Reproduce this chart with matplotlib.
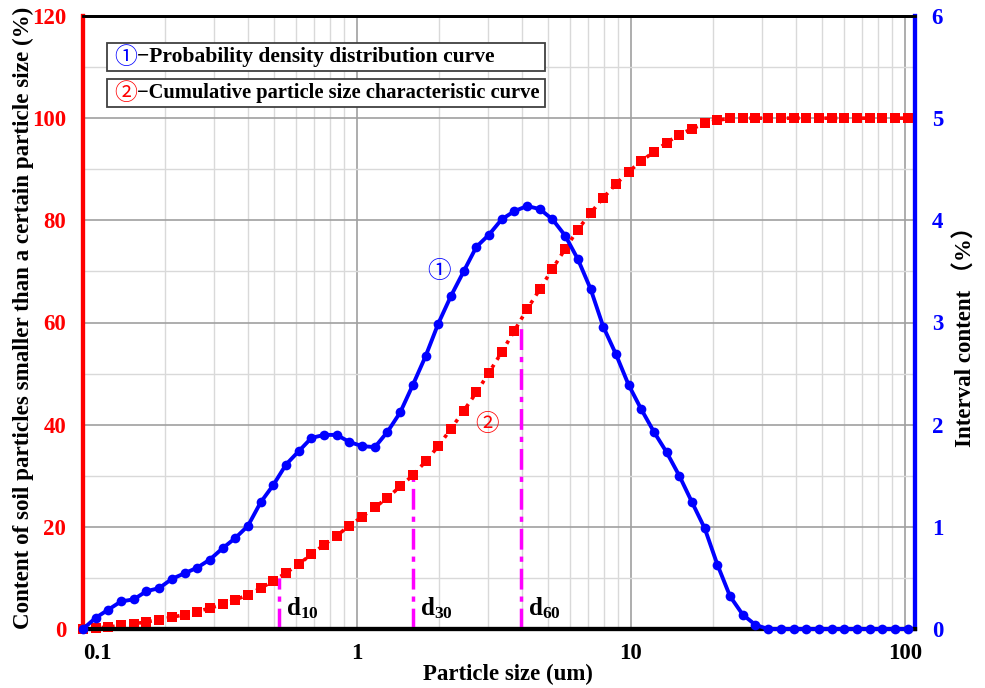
import matplotlib
matplotlib.use("Agg")
import matplotlib.pyplot as plt
from matplotlib.patches import Rectangle
from matplotlib.ticker import FixedLocator, NullFormatter

plt.rcParams['font.family'] = ['Liberation Serif', 'Noto Sans CJK SC', 'DejaVu Sans']
plt.rcParams['font.weight'] = 'bold'
plt.rcParams['mathtext.fontset'] = 'custom'
plt.rcParams['mathtext.rm'] = 'Liberation Serif:bold'
plt.rcParams['mathtext.bf'] = 'Liberation Serif:bold'
plt.rcParams['mathtext.it'] = 'Liberation Serif:bold'

# particle size bins (um)
size_um = [0.100, 0.1113, 0.1238, 0.1377, 0.1532, 0.1705, 0.1897, 0.2110, 0.2348, 0.2612,
           0.2906, 0.3233, 0.3597, 0.4002, 0.4453, 0.4954, 0.5511, 0.6132, 0.6822, 0.7590,
           0.8444, 0.9392, 1.045, 1.163, 1.293, 1.439, 1.601, 1.781, 1.982, 2.205,
           2.453, 2.729, 3.036, 3.378, 3.758, 4.181, 4.652, 5.175, 5.758, 6.406,
           7.127, 7.929, 8.821, 9.812, 10.92, 12.14, 13.51, 15.03, 16.73, 18.61,
           20.70, 23.03, 25.63, 28.51, 31.72, 35.29, 39.26, 43.68, 48.60, 54.07,
           60.15, 66.92, 74.45, 82.83, 92.15, 102.5]

# interval content (%) - right axis
interval = [0, 0.11, 0.19, 0.27, 0.29, 0.37, 0.40, 0.49, 0.545, 0.60,
            0.68, 0.79, 0.89, 1.01, 1.24, 1.41, 1.61, 1.74, 1.87, 1.90,
            1.90, 1.83, 1.79, 1.78, 1.93, 2.12, 2.39, 2.67, 2.99, 3.26,
            3.50, 3.74, 3.86, 4.01, 4.09, 4.14, 4.11, 4.01, 3.85, 3.62,
            3.33, 2.96, 2.69, 2.39, 2.15, 1.93, 1.73, 1.50, 1.24, 0.985,
            0.63, 0.32, 0.14, 0.04, 0, 0, 0, 0, 0, 0,
            0, 0, 0, 0, 0, 0]

# cumulative content (%) - left axis
cumulative = [0, 0.2, 0.4, 0.7, 1.0, 1.4, 1.8, 2.3, 2.8, 3.4,
              4.1, 4.8, 5.7, 6.7, 8.0, 9.4, 11.0, 12.7, 14.6, 16.5,
              18.3, 20.2, 22.0, 23.8, 25.7, 27.9, 30.1, 32.8, 35.8, 39.2,
              42.7, 46.3, 50.2, 54.2, 58.4, 62.6, 66.5, 70.5, 74.4, 78.2,
              81.4, 84.4, 87.1, 89.5, 91.6, 93.4, 95.2, 96.8, 97.9, 99.0,
              99.6, 99.95, 100, 100, 100, 100, 100, 100, 100, 100,
              100, 100, 100, 100, 100, 100]

# characteristic diameters
d_names = ['10', '30', '60']
d_values = [0.52, 1.60, 3.98]
d_percent = [10, 30, 60]

x_ticks = [0.1, 1, 10, 100]
x_ticklabels = ['0.1', '1', '10', '100']
left_ticks = [0, 20, 40, 60, 80, 100, 120]
right_ticks = [0, 1, 2, 3, 4, 5, 6]

fig = plt.figure(figsize=(9.85, 6.88), dpi=100)
ax = fig.add_axes([83/985, 1-629/688, (915-83)/985, (629-16)/688])
ax2 = ax.twinx()

ax.set_xscale('log')
ax.set_xlim(0.1, 109)
ax.set_ylim(0, 120)
ax2.set_ylim(0, 6)

# grid
ax.set_xticks(x_ticks)
ax.set_xticklabels(x_ticklabels)
minors = [m * 10.0**e for e in (-1, 0, 1) for m in range(2, 10)]
ax.xaxis.set_minor_locator(FixedLocator(minors))
ax.xaxis.set_minor_formatter(NullFormatter())
ax.set_yticks(left_ticks)
ax.yaxis.set_minor_locator(FixedLocator([10, 30, 50, 70, 90, 110]))
ax.grid(True, which='major', color='#a0a0a0', linewidth=1.2, zorder=0)
ax.grid(True, which='minor', color='#d9d9d9', linewidth=1.0, zorder=0)
ax.set_axisbelow(True)
ax2.set_yticks(right_ticks)

ax.tick_params(axis='both', which='both', length=0)
ax2.tick_params(axis='both', which='both', length=0)
ax.tick_params(axis='x', labelsize=16.5, pad=10, labelcolor='black')
ax.tick_params(axis='y', labelsize=16.5, pad=12, labelcolor='red')
ax2.tick_params(axis='y', labelsize=16.5, pad=12, labelcolor='blue')
for lab in ax.get_xticklabels():
    lab.set_fontweight('bold')
    if lab.get_text() == '0.1':
        lab.set_horizontalalignment('left')
for lab in ax.get_yticklabels() + ax2.get_yticklabels():
    lab.set_fontweight('bold')

# spines
for a in (ax, ax2):
    a.spines['left'].set_color('red')
    a.spines['left'].set_linewidth(3)
    a.spines['right'].set_color('blue')
    a.spines['right'].set_linewidth(3)
    a.spines['top'].set_color('black')
    a.spines['top'].set_linewidth(2)
    a.spines['bottom'].set_color('black')
    a.spines['bottom'].set_linewidth(3)

# characteristic diameter lines
for name, dv, dp in zip(d_names, d_values, d_percent):
    ax.plot([dv, dv], [0, dp], color='#ff00ff', linewidth=2.5,
            linestyle=(0, (6, 2, 1.5, 2)), zorder=3)
    ax.text(dv * 1.06, 4.0, r'$\mathbf{d}_{\mathbf{%s}}$' % name, fontsize=18,
            color='black', ha='left', va='center', zorder=6)

# cumulative curve
ax.plot(size_um, cumulative, color='red', linestyle=(0, (1, 1.6)), linewidth=2.6,
        marker='s', markersize=6.5, markeredgewidth=0, zorder=4, clip_on=False)

# density curve (twin axis drawn above)
ax2.plot(size_um, interval, color='blue', linestyle='-', linewidth=2.8,
         marker='o', markersize=7, markeredgewidth=0, zorder=5, clip_on=False)

# curve annotations
ax.text(2.0, 70, '①', color='blue', fontsize=17, ha='center', va='center',
        family=['Noto Sans CJK SC', 'DejaVu Sans'], fontweight='normal', zorder=6)
ax.text(2.98, 40, '②', color='red', fontsize=17, ha='center', va='center',
        family=['Noto Sans CJK SC', 'DejaVu Sans'], fontweight='normal', zorder=6)

# axis labels
ax.set_xlabel('Particle size (um)', fontsize=16.5, fontweight='bold')
ax.xaxis.set_label_coords((508-83)/832, -(664-629)/613)
ax.set_ylabel('Content of soil particles smaller than a certain particle size (%)',
              fontsize=16.6, fontweight='bold')
ax.yaxis.set_label_coords((34-83)/832, (629-318)/613)
ax2.set_ylabel('Interval content （%）', fontsize=16.5, fontweight='bold', rotation=90)
ax2.yaxis.set_label_coords((955-83)/832, (629-331)/613)

# legend boxes (figure pixel coords)
H = 688.0
W = 985.0
legend_items = [('①', 'blue', '−Probability density distribution curve', 15.5),
                ('②', 'red', '−Cumulative particle size characteristic curve', 14.8)]
box_tops = [43, 79]
for (sym, col, txt, fs), top in zip(legend_items, box_tops):
    rect = Rectangle((107/W, 1-(top+28)/H), (545-107)/W, 28/H, transform=fig.transFigure,
                     facecolor='white', edgecolor='#404040', linewidth=1.3, zorder=10)
    fig.patches.append(rect)
    ymid = 1-(top+14)/H
    fig.text(114/W, ymid, sym, color=col, fontsize=16.5, ha='left', va='center',
             family=['Noto Sans CJK SC', 'DejaVu Sans'], fontweight='normal', zorder=11)
    fig.text(137/W, ymid, txt, color='black', fontsize=fs, fontweight='bold',
             ha='left', va='center', zorder=11)

fig.savefig('out.png', dpi=100)
